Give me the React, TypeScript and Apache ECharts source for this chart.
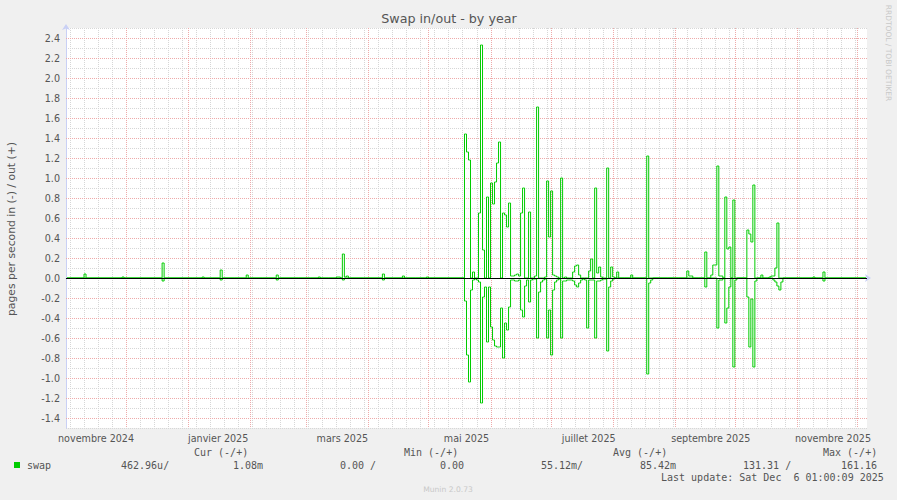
import React, { useEffect, useRef } from "react";
import * as echarts from "echarts";

// ---- axis range ----
const xStart = "2024-11-01";
const xEnd = "2025-12-06";
const yMin = -1.5;
const yMax = 2.5;
const yStep = 0.1;
const yMajorValues = [-1.4, -1.2, -1.0, -0.8, -0.6, -0.4, -0.2, 0.0, 0.2, 0.4, 0.6, 0.8, 1.0, 1.2, 1.4, 1.6, 1.8, 2.0, 2.2, 2.4];

// ---- labels ----
const monthNames = ["janvier", "février", "mars", "avril", "mai", "juin", "juillet", "août", "septembre", "octobre", "novembre", "décembre"];
const xLabelDates = ["2024-11-16", "2025-01-16", "2025-03-19", "2025-05-20", "2025-07-20", "2025-09-19", "2025-11-19"];
const monthGridDates = ["2024-12-01", "2025-01-01", "2025-02-01", "2025-03-01", "2025-04-01", "2025-05-01", "2025-06-01", "2025-07-01", "2025-08-01", "2025-09-01", "2025-10-01", "2025-11-01", "2025-12-01"];
const firstWeekLine = "2024-11-03";

const titleText = "Swap in/out - by year";
const yAxisTitle = "pages per second in (-) / out (+)";
const sideText = "RRDTOOL / TOBI OETIKER";
const footerText = "Munin 2.0.73";
const legendName = "swap";
const legendHeaders = ["Cur (-/+)", "Min (-/+)", "Avg (-/+)", "Max (-/+)"];
const legendValues = ["462.96u/", "1.08m", "0.00 /", "0.00", "55.12m/", "85.42m", "131.31 /", "161.16"];
const lastUpdate = "Last update: Sat Dec  6 01:00:09 2025";

// ---- data: swap out (+) per day ----
const swapOut: [string, number][] = [
  ["2024-11-01", 0],
  ["2024-11-09", 0], ["2024-11-10", 0.04], ["2024-11-11", 0],
  ["2024-11-28", 0], ["2024-11-29", 0.01], ["2024-11-30", 0],
  ["2024-12-18", 0], ["2024-12-19", 0.15], ["2024-12-20", 0],
  ["2025-01-07", 0], ["2025-01-08", 0.01], ["2025-01-09", 0],
  ["2025-01-16", 0], ["2025-01-17", 0.08], ["2025-01-18", 0],
  ["2025-01-29", 0], ["2025-01-30", 0.03], ["2025-01-31", 0],
  ["2025-02-13", 0], ["2025-02-14", 0.03], ["2025-02-15", 0],
  ["2025-03-06", 0], ["2025-03-07", 0.01], ["2025-03-08", 0],
  ["2025-03-15", 0], ["2025-03-16", 0.01], ["2025-03-17", 0.01], ["2025-03-18", 0], ["2025-03-19", 0.24], ["2025-03-20", 0.01], ["2025-03-21", 0.02], ["2025-03-22", 0],
  ["2025-04-07", 0], ["2025-04-08", 0.04], ["2025-04-09", 0],
  ["2025-04-17", 0], ["2025-04-18", 0.02], ["2025-04-19", 0],
  ["2025-04-29", 0], ["2025-04-30", 0.01], ["2025-05-01", 0],
  ["2025-05-18", 0], ["2025-05-19", 1.44], ["2025-05-20", 1.26], ["2025-05-21", 1.18], ["2025-05-22", 0], ["2025-05-23", 0.06], ["2025-05-24", 0], ["2025-05-25", 0],
  ["2025-05-26", 0.65], ["2025-05-27", 2.33], ["2025-05-28", 0.28], ["2025-05-29", 0], ["2025-05-30", 0.81], ["2025-05-31", 0],
  ["2025-06-01", 0.95], ["2025-06-02", 0.74], ["2025-06-03", 0.96], ["2025-06-04", 1.15], ["2025-06-05", 1.36], ["2025-06-06", 0],
  ["2025-06-07", 0.65], ["2025-06-08", 0.63], ["2025-06-09", 0.51], ["2025-06-10", 0.75], ["2025-06-11", 0.02], ["2025-06-12", 0.02],
  ["2025-06-13", 0.03], ["2025-06-14", 0.04], ["2025-06-15", 0.02], ["2025-06-16", 0.65], ["2025-06-17", 0.9], ["2025-06-18", 0],
  ["2025-06-19", 0], ["2025-06-20", 0.66], ["2025-06-21", 0], ["2025-06-22", 0], ["2025-06-23", 0.02], ["2025-06-24", 1.71],
  ["2025-06-25", 0], ["2025-06-26", 0], ["2025-06-27", 0], ["2025-06-28", 0.01], ["2025-06-29", 0.97], ["2025-06-30", 0.41],
  ["2025-07-01", 0.87], ["2025-07-02", 0.03], ["2025-07-03", 0.02], ["2025-07-04", 0.01], ["2025-07-05", 0], ["2025-07-06", 1.0],
  ["2025-07-07", 0], ["2025-07-08", 0.01], ["2025-07-09", 0],
  ["2025-07-11", 0], ["2025-07-12", 0.06], ["2025-07-13", 0.12], ["2025-07-14", 0.13], ["2025-07-15", 0.03], ["2025-07-16", 0],
  ["2025-07-19", 0], ["2025-07-20", 0.07], ["2025-07-21", 0.19], ["2025-07-22", 0], ["2025-07-23", 0.9], ["2025-07-24", 0.05],
  ["2025-07-25", 0.11], ["2025-07-26", 0.01], ["2025-07-27", 0], ["2025-07-28", 0], ["2025-07-29", 1.1], ["2025-07-30", 0],
  ["2025-07-31", 0.11], ["2025-08-01", 0.01], ["2025-08-02", 0], ["2025-08-03", 0.06], ["2025-08-04", 0],
  ["2025-08-09", 0], ["2025-08-10", 0.03], ["2025-08-11", 0],
  ["2025-08-17", 0], ["2025-08-18", 1.22], ["2025-08-19", 0],
  ["2025-09-06", 0], ["2025-09-07", 0.07], ["2025-09-08", 0.02], ["2025-09-09", 0.02], ["2025-09-10", 0],
  ["2025-09-15", 0], ["2025-09-16", 0.26], ["2025-09-17", 0], ["2025-09-18", 0], ["2025-09-19", 0.03], ["2025-09-20", 0.13],
  ["2025-09-21", 0.13], ["2025-09-22", 1.12], ["2025-09-23", 0.02], ["2025-09-24", 0.02], ["2025-09-25", 0], ["2025-09-26", 0.81],
  ["2025-09-27", 0.29], ["2025-09-28", 0.31], ["2025-09-29", 0], ["2025-09-30", 0.78], ["2025-10-01", 0],
  ["2025-10-06", 0], ["2025-10-07", 0.48], ["2025-10-08", 0.44], ["2025-10-09", 0.36], ["2025-10-10", 0.93], ["2025-10-11", 0],
  ["2025-10-13", 0], ["2025-10-14", 0.03], ["2025-10-15", 0],
  ["2025-10-17", 0], ["2025-10-18", 0.01], ["2025-10-19", 0.02], ["2025-10-20", 0.02], ["2025-10-21", 0.1], ["2025-10-22", 0.55], ["2025-10-23", 0],
  ["2025-11-08", 0], ["2025-11-09", 0.01], ["2025-11-10", 0],
  ["2025-11-13", 0], ["2025-11-14", 0.06], ["2025-11-15", 0],
  ["2025-12-05", 0],
];

// ---- data: swap in (-) per day ----
const swapIn: [string, number][] = [
  ["2024-11-01", 0],
  ["2024-12-18", 0], ["2024-12-19", -0.03], ["2024-12-20", 0],
  ["2025-01-16", 0], ["2025-01-17", -0.02], ["2025-01-18", 0],
  ["2025-02-13", 0], ["2025-02-14", -0.02], ["2025-02-15", 0],
  ["2025-03-18", 0], ["2025-03-19", -0.02], ["2025-03-20", 0],
  ["2025-04-07", 0], ["2025-04-08", -0.02], ["2025-04-09", 0],
  ["2025-05-18", 0], ["2025-05-19", -0.23], ["2025-05-20", -0.77], ["2025-05-21", -1.04], ["2025-05-22", -0.12], ["2025-05-23", -0.02],
  ["2025-05-24", -0.01], ["2025-05-25", -0.02], ["2025-05-26", -0.04], ["2025-05-27", -1.25], ["2025-05-28", -0.19], ["2025-05-29", -0.09],
  ["2025-05-30", -0.64], ["2025-05-31", -0.09],
  ["2025-06-01", -0.49], ["2025-06-02", -0.62], ["2025-06-03", -0.68], ["2025-06-04", -0.69], ["2025-06-05", -0.69], ["2025-06-06", -0.3],
  ["2025-06-07", -0.8], ["2025-06-08", -0.45], ["2025-06-09", -0.52], ["2025-06-10", -0.29], ["2025-06-11", -0.02], ["2025-06-12", -0.02],
  ["2025-06-13", -0.03], ["2025-06-14", -0.03], ["2025-06-15", -0.02], ["2025-06-16", -0.32], ["2025-06-17", -0.39], ["2025-06-18", -0.08],
  ["2025-06-19", -0.02], ["2025-06-20", -0.24], ["2025-06-21", -0.02], ["2025-06-22", -0.01], ["2025-06-23", -0.01], ["2025-06-24", -0.6],
  ["2025-06-25", -0.14], ["2025-06-26", -0.04], ["2025-06-27", -0.02], ["2025-06-28", -0.01], ["2025-06-29", -0.6], ["2025-06-30", -0.32],
  ["2025-07-01", -0.77], ["2025-07-02", -0.12], ["2025-07-03", -0.04], ["2025-07-04", -0.02], ["2025-07-05", -0.01], ["2025-07-06", -0.6],
  ["2025-07-07", -0.03], ["2025-07-08", -0.03], ["2025-07-09", -0.02], ["2025-07-10", -0.02], ["2025-07-11", -0.02], ["2025-07-12", -0.03],
  ["2025-07-13", -0.07], ["2025-07-14", -0.09], ["2025-07-15", -0.05], ["2025-07-16", -0.02], ["2025-07-17", -0.01], ["2025-07-18", -0.02],
  ["2025-07-19", -0.5], ["2025-07-20", -0.02], ["2025-07-21", -0.02], ["2025-07-22", -0.02], ["2025-07-23", -0.6], ["2025-07-24", -0.03],
  ["2025-07-25", -0.03], ["2025-07-26", -0.02], ["2025-07-27", -0.01], ["2025-07-28", -0.01], ["2025-07-29", -0.73], ["2025-07-30", -0.09],
  ["2025-07-31", -0.03], ["2025-08-01", -0.01], ["2025-08-02", 0],
  ["2025-08-17", 0], ["2025-08-18", -0.96], ["2025-08-19", -0.05], ["2025-08-20", -0.02], ["2025-08-21", 0],
  ["2025-09-15", 0], ["2025-09-16", -0.09], ["2025-09-17", 0],
  ["2025-09-21", 0], ["2025-09-22", -0.5], ["2025-09-23", -0.02], ["2025-09-24", -0.02], ["2025-09-25", 0], ["2025-09-26", -0.45],
  ["2025-09-27", -0.3], ["2025-09-28", -0.09], ["2025-09-29", 0], ["2025-09-30", -0.89], ["2025-10-01", -0.02], ["2025-10-02", 0],
  ["2025-10-06", 0], ["2025-10-07", -0.19], ["2025-10-08", -0.69], ["2025-10-09", -0.21], ["2025-10-10", -0.89], ["2025-10-11", -0.03], ["2025-10-12", 0],
  ["2025-10-19", 0], ["2025-10-20", -0.02], ["2025-10-21", -0.04], ["2025-10-22", -0.08], ["2025-10-23", -0.12], ["2025-10-24", -0.04], ["2025-10-25", 0],
  ["2025-11-13", 0], ["2025-11-14", -0.03], ["2025-11-15", 0],
  ["2025-12-05", 0],
];

const dayStart = (s: string) => Date.parse(s + "T00:00:00Z");
const dayMid = (s: string) => Date.parse(s + "T12:00:00Z");

const GREEN = "#00cc00";
const TEXT = "#555555";
const AXIS = "#c9d0f5";
const GRID_GRAY = "#d6d6d6";
const GRID_RED = "#eeaaaa";
const SANS = "DejaVu Sans";
const MONO = "DejaVu Sans Mono";

export default function App() {
  const ref = useRef<HTMLDivElement>(null);

  useEffect(() => {
    if (!ref.current) return;
    const chart = echarts.init(ref.current, undefined, { renderer: "svg" });

    const xMin = dayStart(xStart);
    const xMax = dayStart(xEnd);
    const week = 7 * 86400000;
    // grid items: [x, y, kind]  kind 0 = weekly vertical, 1 = monthly vertical, 2 = major horizontal
    const gridItems: [number, number, number][] = [];
    for (let t = dayStart(firstWeekLine); t < xMax; t += week) gridItems.push([t, 0, 0]);
    monthGridDates.forEach((d) => gridItems.push([dayStart(d), 0, 1]));
    yMajorValues.forEach((v) => gridItems.push([xMin, v, 2]));

    const mono = (text: string, x: number, y: number) => ({
      type: "text",
      x,
      y,
      silent: true,
      style: { text, fontFamily: MONO, fontSize: 10, fill: TEXT, textAlign: "left", textVerticalAlign: "middle" },
    });
    const headerX = [194, 404, 613, 823];
    const valueX = [121, 233, 340, 440, 541, 640, 743, 841];

    const graphic: any[] = [
      {
        type: "text", x: 449, y: 18, silent: true,
        style: { text: titleText, fontFamily: SANS, fontSize: 12.7, fill: TEXT, textAlign: "center", textVerticalAlign: "middle" },
      },
      {
        type: "text", x: 11, y: 229, rotation: Math.PI / 2, silent: true,
        style: { text: yAxisTitle, fontFamily: SANS, fontSize: 10.8, fill: TEXT, textAlign: "center", textVerticalAlign: "middle" },
      },
      {
        type: "text", x: 888, y: 53, rotation: -Math.PI / 2, silent: true,
        style: { text: sideText, fontFamily: SANS, fontSize: 7.5, fill: "#c8c8c8", textAlign: "center", textVerticalAlign: "middle" },
      },
      {
        type: "text", x: 448, y: 489, silent: true,
        style: { text: footerText, fontFamily: SANS, fontSize: 7.6, fill: "#c8c8c8", textAlign: "center", textVerticalAlign: "middle" },
      },
      { type: "rect", silent: true, shape: { x: 14, y: 462, width: 6, height: 6 }, style: { fill: GREEN } },
      mono(legendName, 27, 465),
      ...legendHeaders.map((h, i) => mono(h, headerX[i], 452.5)),
      ...legendValues.map((v, i) => mono(v, valueX[i], 465)),
      mono(lastUpdate, 661, 477),
    ];

    const lineSeries = (name: string, data: [string, number][], withZero: boolean) => ({
      type: "line",
      name,
      data: data.map(([d, v]) => [dayMid(d), v]),
      step: "middle",
      showSymbol: false,
      symbol: "none",
      silent: true,
      z: 2,
      lineStyle: { color: GREEN, width: 1 },
      itemStyle: { color: GREEN },
      ...(withZero
        ? {
            markLine: {
              silent: true,
              symbol: "none",
              label: { show: false },
              lineStyle: { color: "#000000", width: 1, type: "solid" },
              emphasis: { disabled: true },
              data: [{ yAxis: 0 }],
            },
          }
        : {}),
    });

    chart.setOption({
      animation: false,
      backgroundColor: "#f0f0f0",
      grid: { left: 66, top: 28, width: 801, height: 400, show: true, backgroundColor: "#ffffff", borderWidth: 0 },
      xAxis: {
        type: "value",
        min: xMin,
        max: xMax,
        axisLine: { show: true, lineStyle: { color: AXIS, width: 1 }, symbol: ["none", "arrow"], symbolSize: [6, 6], symbolOffset: [0, 4] },
        axisTick: { show: false },
        splitLine: { show: false },
        axisLabel: {
          customValues: xLabelDates.map(dayStart),
          formatter: (v: number) => {
            const d = new Date(v);
            return monthNames[d.getUTCMonth()] + " " + d.getUTCFullYear();
          },
          color: TEXT,
          fontFamily: SANS,
          fontSize: 9.6,
          margin: 5,
        },
      },
      yAxis: {
        type: "value",
        min: yMin,
        max: yMax,
        interval: yStep,
        axisLine: { show: true, lineStyle: { color: AXIS, width: 1 }, symbol: ["none", "arrow"], symbolSize: [6, 6], symbolOffset: [0, 4] },
        axisTick: { show: false },
        axisLabel: {
          formatter: (v: number) => (yMajorValues.some((m) => Math.abs(m - v) < 1e-6) ? v.toFixed(1) : ""),
          color: TEXT,
          fontFamily: SANS,
          fontSize: 9.6,
          margin: 6,
        },
        splitLine: { show: true, lineStyle: { color: GRID_GRAY, width: 1, type: [1, 1] } },
      },
      series: [
        {
          type: "custom",
          name: "grid",
          z: 1,
          silent: true,
          data: gridItems,
          encode: { x: 0, y: 1 },
          renderItem: (params: any, api: any) => {
            const cs = params.coordSys;
            const kind = api.value(2);
            if (kind === 2) {
              const y = Math.round(api.coord([api.value(0), api.value(1)])[1]) + 0.5;
              return {
                type: "line",
                shape: { x1: cs.x, y1: y, x2: cs.x + cs.width, y2: y },
                style: { stroke: GRID_RED, lineWidth: 1, lineDash: [1, 1] },
              };
            }
            const x = Math.round(api.coord([api.value(0), 0])[0]) + 0.5;
            return {
              type: "line",
              shape: { x1: x, y1: cs.y, x2: x, y2: cs.y + cs.height },
              style: { stroke: kind === 1 ? GRID_RED : GRID_GRAY, lineWidth: 1, lineDash: [1, 1] },
            };
          },
        },
        lineSeries("swap in", swapIn, false),
        lineSeries("swap out", swapOut, true),
      ],
      graphic,
    });

    return () => chart.dispose();
  }, []);

  return (
    <div
      ref={ref}
      style={{ position: "absolute", left: 0, top: 0, width: 897, height: 500, background: "#f0f0f0" }}
    />
  );
}
